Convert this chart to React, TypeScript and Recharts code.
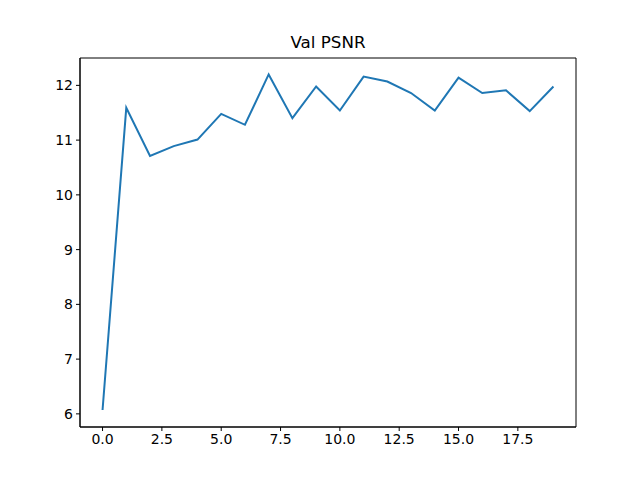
import { LineChart, Line, XAxis, YAxis, ReferenceArea } from 'recharts';

const epochs = [0, 1, 2, 3, 4, 5, 6, 7, 8, 9, 10, 11, 12, 13, 14, 15, 16, 17, 18, 19];
const psnr = [6.07, 11.59, 10.71, 10.89, 11.01, 11.48, 11.28, 12.2, 11.4, 11.98, 11.54, 12.16, 12.07, 11.86, 11.54, 12.14, 11.86, 11.91, 11.53, 11.98];
const xTicks = [0, 2.5, 5, 7.5, 10, 12.5, 15, 17.5];
const yTicks = [6, 7, 8, 9, 10, 11, 12];

const data = epochs.map((e, i) => ({ epoch: e, psnr: psnr[i] }));

const X_DOMAIN: [number, number] = [-0.95, 19.95];
const Y_DOMAIN: [number, number] = [5.76, 12.5];

const font = { fill: '#000', fontSize: 14, fontFamily: 'DejaVu Sans' };

export default function App() {
  return (
    <div style={{ position: 'absolute', left: 0, top: 0, width: 640, height: 480, background: '#fff' }}>
      <div
        style={{
          position: 'absolute',
          left: 80,
          width: 496,
          top: 32,
          textAlign: 'center',
          fontFamily: 'DejaVu Sans',
          fontSize: 16.7,
          color: '#000',
        }}
      >
        Val PSNR
      </div>
      <LineChart width={640} height={480} data={data} margin={{ top: 58, right: 64, left: 0, bottom: 0 }}>
        <XAxis
          dataKey="epoch"
          type="number"
          domain={X_DOMAIN}
          allowDataOverflow
          ticks={xTicks}
          tickFormatter={(v) => v.toFixed(1)}
          height={53}
          tickSize={4}
          tickMargin={3}
          stroke="#000"
          tick={font}
        />
        <YAxis
          type="number"
          domain={Y_DOMAIN}
          allowDataOverflow
          ticks={yTicks}
          width={80}
          tickSize={4}
          tickMargin={3}
          stroke="#000"
          tick={font}
        />
        <ReferenceArea x1={X_DOMAIN[0]} x2={X_DOMAIN[1]} y1={Y_DOMAIN[0]} y2={Y_DOMAIN[1]} fill="none" stroke="#000" strokeOpacity={1} ifOverflow="visible" />
        <Line
          type="linear"
          dataKey="psnr"
          stroke="#1f77b4"
          strokeWidth={2}
          dot={false}
          isAnimationActive={false}
        />
      </LineChart>
    </div>
  );
}
